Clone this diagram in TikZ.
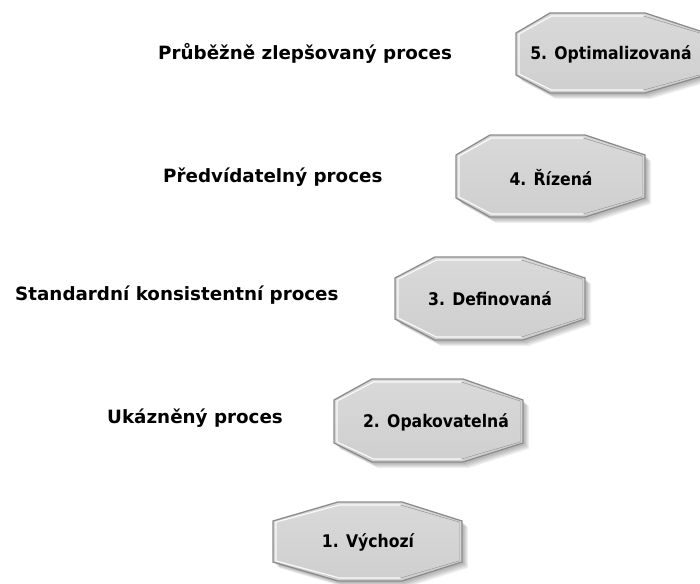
\documentclass[tikz,border=0pt]{standalone}
\usepackage{fontspec}
\setmainfont{DejaVu Sans}
\newfontfamily\boxfont{DejaVu Sans Condensed}
\definecolor{stepfill}{HTML}{CFCFCF}
\definecolor{steptop}{HTML}{D9D9D9}
\definecolor{stepedge}{HTML}{8C8C8C}
\definecolor{stepdark}{HTML}{A8A8A8}
% octagon outline: L R T B top-left-x top-right-x upper-y lower-y
\newcommand{\octpath}[8]{(#1,#7) -- (#5,#3) -- (#6,#3) -- (#2,#7) -- (#2,#8) -- (#6,#4) -- (#5,#4) -- (#1,#8) -- cycle}
\newcommand{\levelbox}[8]{%
  \foreach \d in {2,3,4,5,6}{%
    \fill[black,opacity=0.06,shift={(\d,\d)}] \octpath{#1}{#2}{#3}{#4}{#5}{#6}{#7}{#8};}
  \shade[top color=steptop,bottom color=stepfill,draw=stepedge,line width=1.3pt]
    \octpath{#1}{#2}{#3}{#4}{#5}{#6}{#7}{#8};
  \draw[white,line width=1.1pt,opacity=0.9]
    \octpath{#1+3}{#2-3}{#3+3}{#4-3}{#5+1.5}{#6-1.5}{#7+1}{#8-1};
  \draw[stepdark,line width=1pt]
    (#6-1.5,#3+3) -- (#2-3,#7+1) -- (#2-3,#8-1) -- (#6-1.5,#4-3);
}
\tikzset{
  levellabel/.style={anchor=base west,inner sep=0pt,font=\fontsize{18.3}{22}\selectfont\bfseries},
  leveltext/.style={anchor=base,inner sep=0pt,font=\boxfont\fontsize{17.4}{21}\selectfont\bfseries}
}
\begin{document}
\begin{tikzpicture}[x=1pt,y=-1pt]
  \clip (0,0) rectangle (700,583);
  \fill[white] (0,0) rectangle (700,583);
  % maturity levels, bottom to top
  \levelbox{273}{462}{502}{581}{338}{402}{521}{562}
  \levelbox{334}{523}{379}{462}{372}{463}{400}{443}
  \levelbox{395}{585}{257}{340}{435}{523}{278}{319}
  \levelbox{456}{645}{135}{217}{490}{585}{155}{198}
  \levelbox{516}{706}{13}{93}{550}{645}{33}{75}
  \node[leveltext] (l1) at (368,547) {1. Výchozí};
  \node[leveltext] (l2) at (436,427) {2. Opakovatelná};
  \node[leveltext] (l3) at (490,305) {3. Definovaná};
  \node[leveltext] (l4) at (551,185) {4. Řízená};
  \node[leveltext] (l5) at (611,60) {5. Optimalizovaná};
  % process descriptions
  \node[levellabel] (d2) at (107,423) {Ukázněný proces};
  \node[levellabel] (d3) at (15,300) {Standardní konsistentní proces};
  \node[levellabel] (d4) at (163,182) {Předvídatelný proces};
  \node[levellabel] (d5) at (158,60) {Průběžně zlepšovaný proces};
\end{tikzpicture}
\end{document}
